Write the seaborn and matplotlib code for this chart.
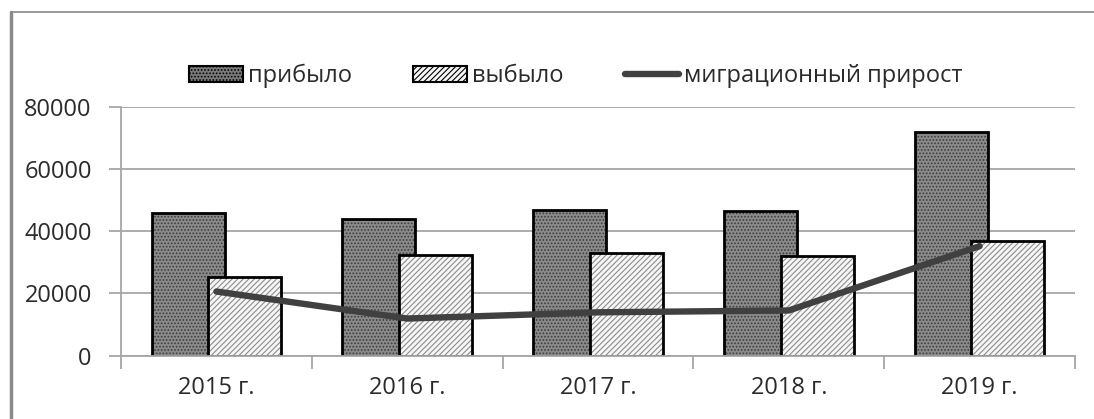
import numpy as np
import pandas as pd
import matplotlib
matplotlib.use("Agg")
import matplotlib.pyplot as plt
import seaborn as sns
from matplotlib.patches import Patch
from matplotlib.lines import Line2D

# ---- data ----
years = ["2015 г.", "2016 г.", "2017 г.", "2018 г.", "2019 г."]
arrived = [45800, 44000, 47000, 46500, 71800]      # прибыло
departed = [25200, 32300, 33100, 32000, 36900]     # выбыло
migration = [20600, 11900, 13900, 14500, 35200]    # миграционный прирост
yticks = [0, 20000, 40000, 60000, 80000]
legend_labels = ["прибыло", "выбыло", "миграционный прирост"]

sns.set_style("white")
plt.rcParams["font.family"] = ["Open Sans", "DejaVu Sans"]
plt.rcParams["hatch.linewidth"] = 0.8

W, H = 1094, 419
fig = plt.figure(figsize=(W / 100, H / 100), dpi=100)
ax = fig.add_axes([121 / W, 63.5 / H, (1075 - 121) / W, (355.5 - 107) / H])

pos = np.arange(len(years))
df = pd.DataFrame({"pos": pos, "arrived": arrived, "departed": departed,
                   "migration": migration})
off = 0.148
bw = 0.383

series = [("arrived", -1, "#8a8a8a", ".....", "#3c3c3c"),
          ("departed", 1, "#f6f6f6", "//////", "#8c8c8c")]
for col, sign, face, hatch, hcol in series:
    x = df["pos"] + sign * off
    sns.barplot(x=x, y=df[col], native_scale=True, width=bw, color=face,
                saturation=1, hatch=hatch, edgecolor=hcol, linewidth=0,
                errorbar=None, ax=ax)
    sns.barplot(x=x, y=df[col], native_scale=True, width=bw, fill=False,
                color="black", linewidth=2, errorbar=None, ax=ax)

sns.lineplot(x=df["pos"], y=df["migration"], color="#404040", linewidth=4.6,
             solid_capstyle="round", ax=ax, zorder=5)

# ---- axes styling ----
grid_c = "#a6a6a6"
ax.set_xlim(-0.5, len(years) - 0.5)
ax.set_ylim(0, 80000)
ax.set_yticks(yticks)
ax.set_yticklabels([str(v) for v in yticks])
ax.set_xticks(np.arange(-0.5, len(years), 1.0))
ax.set_xticklabels([""] * (len(years) + 1))
ax.set_xticks(pos, minor=True)
ax.set_xticklabels(years, minor=True)
ax.set_xlabel("")
ax.set_ylabel("")
ax.yaxis.grid(True, color=grid_c, linewidth=1.3)
ax.xaxis.grid(False)
ax.set_axisbelow(True)
for s in ["top", "right"]:
    ax.spines[s].set_visible(False)
for s in ["left", "bottom"]:
    ax.spines[s].set_color(grid_c)
    ax.spines[s].set_linewidth(1.3)
ax.tick_params(axis="x", which="major", bottom=True, length=9, width=1.3,
               color=grid_c, direction="out")
ax.tick_params(axis="x", which="minor", bottom=True, length=0, pad=15,
               labelsize=17, labelcolor="#2a2a2a")
ax.tick_params(axis="y", left=True, length=9, width=1.3, color=grid_c,
               direction="out", pad=12, labelsize=17, labelcolor="#2a2a2a")

# ---- legend ----
handles = [Patch(facecolor="#7a7a7a", edgecolor="black", hatch=".....", linewidth=1.5),
           Patch(facecolor="#f6f6f6", edgecolor="black", hatch="//////", linewidth=1.5),
           Line2D([], [], color="#404040", linewidth=4.6, solid_capstyle="round")]
fig.legend(handles, legend_labels, loc="center", bbox_to_anchor=(0.526, 0.8186),
           ncol=3, frameon=False, fontsize=17, handlelength=2.3,
           handletextpad=0.2, columnspacing=2.6, labelcolor="#2a2a2a")

# ---- outer frame (left and top edges) ----
fig.add_artist(Line2D([11 / W, 11 / W], [0, 1 - 12 / H], transform=fig.transFigure,
                      color="#8a8a8a", linewidth=2.5))
fig.add_artist(Line2D([11 / W, 1], [1 - 12 / H, 1 - 12 / H], transform=fig.transFigure,
                      color="#8a8a8a", linewidth=1.2))

fig.savefig("out.png", dpi=100)
